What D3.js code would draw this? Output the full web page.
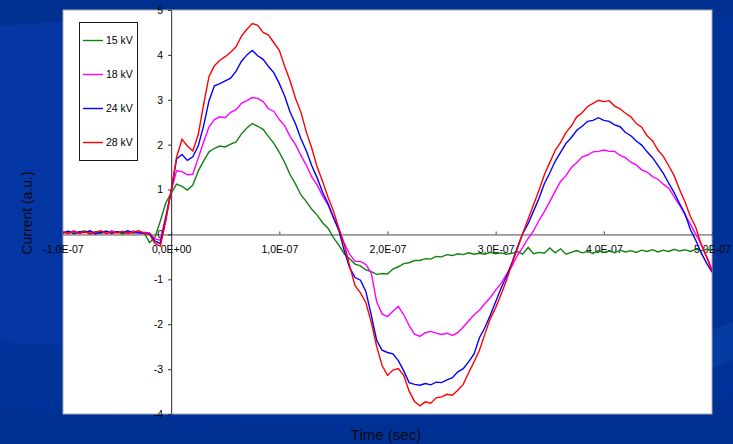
<!DOCTYPE html>
<html>
<head>
<meta charset="utf-8">
<script src="https://cdn.jsdelivr.net/npm/d3@7"></script>
<style>
  html, body { margin: 0; padding: 0; background: #003399; }
  svg { display: block; }
  text { font-family: "Liberation Sans", Arial, sans-serif; }
</style>
</head>
<body>
<svg id="chart" width="733" height="444"></svg>
<script>
// Sample instants, in nanoseconds
const timeNs = [
  -100,-95,-90,-85,-80,-75,-70,-65,-60,-55,-50,-45,-40,-35,-30,-25,-20,-15,-10,-5,
  0,5,10,15,20,25,30,35,40,45,50,55,60,65,70,75,80,85,90,95,
  100,105,110,115,120,125,130,135,140,145,150,155,160,165,170,175,180,185,190,195,
  200,205,210,215,220,225,230,235,240,245,250,255,260,265,270,275,280,285,290,295,
  300,305,310,315,320,325,330,335,340,345,350,355,360,365,370,375,380,385,390,395,
  400,405,410,415,420,425,430,435,440,445,450,455,460,465,470,475,480,485,490,495,
  500
];

// Current (a.u.) for each charging voltage
const current15kV = [
  0.04,0.07,0.02,0.05,0.08,0.03,0.06,0.02,0.07,0.04,0.06,0.01,0.05,0.07,0.03,0.04,-0.18,-0.06,0.30,0.70,
  0.92,1.12,1.07,0.99,1.10,1.41,1.64,1.84,1.92,1.97,1.95,2.01,2.06,2.24,2.37,2.47,2.41,2.34,2.18,2.03,
  1.83,1.60,1.33,1.12,0.88,0.73,0.56,0.43,0.26,0.14,-0.07,-0.24,-0.43,-0.54,-0.66,-0.70,-0.79,-0.83,-0.89,-0.87,
  -0.88,-0.77,-0.72,-0.65,-0.63,-0.58,-0.58,-0.54,-0.55,-0.49,-0.50,-0.45,-0.47,-0.43,-0.45,-0.41,-0.44,-0.42,-0.44,-0.40,
  -0.43,-0.41,-0.44,-0.42,-0.38,-0.44,-0.29,-0.43,-0.40,-0.42,-0.30,-0.41,-0.32,-0.44,-0.40,-0.36,-0.41,-0.38,-0.42,-0.36,
  -0.40,-0.37,-0.41,-0.35,-0.39,-0.36,-0.40,-0.35,-0.38,-0.34,-0.39,-0.35,-0.38,-0.33,-0.37,-0.34,-0.38,-0.33,-0.36,-0.33,
  -0.35
];
const current18kV = [
  0.06,0.03,0.08,0.02,0.05,0.07,0.03,0.06,0.02,0.08,0.04,0.06,0.03,0.07,0.02,0.05,0.03,-0.10,-0.13,0.40,
  0.97,1.42,1.40,1.33,1.34,1.70,2.06,2.40,2.56,2.62,2.60,2.72,2.78,2.92,2.98,3.05,3.03,2.96,2.80,2.74,
  2.56,2.42,2.18,2.00,1.76,1.54,1.28,1.10,0.86,0.66,0.38,0.12,-0.20,-0.44,-0.60,-0.60,-0.67,-0.86,-1.50,-1.77,
  -1.83,-1.71,-1.60,-1.79,-2.03,-2.22,-2.27,-2.19,-2.16,-2.20,-2.23,-2.20,-2.25,-2.19,-2.06,-1.93,-1.79,-1.69,-1.54,-1.41,
  -1.24,-1.09,-0.89,-0.71,-0.47,-0.29,-0.09,0.08,0.31,0.51,0.73,0.96,1.18,1.31,1.49,1.60,1.73,1.77,1.84,1.85,
  1.88,1.85,1.85,1.76,1.71,1.61,1.55,1.44,1.39,1.29,1.23,1.12,1.03,0.84,0.65,0.44,0.23,0.00,-0.21,-0.49,
  -0.78
];
const current24kV = [
  0.03,0.07,0.02,0.06,0.04,0.08,0.01,0.05,0.07,0.02,0.06,0.04,0.08,0.03,0.05,0.02,0.02,-0.15,-0.20,0.35,
  0.96,1.68,1.78,1.65,1.73,1.97,2.42,2.98,3.31,3.36,3.42,3.48,3.64,3.86,4.00,4.10,3.98,3.90,3.74,3.60,
  3.36,3.08,2.72,2.46,2.13,1.86,1.53,1.26,0.94,0.69,0.38,0.09,-0.36,-0.74,-0.96,-1.02,-1.27,-1.80,-2.36,-2.58,
  -2.63,-2.66,-2.81,-3.04,-3.30,-3.34,-3.36,-3.32,-3.35,-3.29,-3.30,-3.24,-3.19,-3.06,-2.99,-2.84,-2.66,-2.30,-2.08,-1.80,
  -1.50,-1.20,-0.93,-0.63,-0.29,0.02,0.24,0.52,0.80,1.13,1.37,1.63,1.83,2.03,2.16,2.32,2.41,2.52,2.54,2.60,
  2.54,2.52,2.44,2.40,2.27,2.20,2.08,1.99,1.84,1.71,1.54,1.36,1.14,0.93,0.69,0.46,0.11,-0.13,-0.41,-0.64,
  -0.84
];
const current28kV = [
  0.05,0.02,0.07,0.03,0.06,0.01,0.05,0.08,0.02,0.06,0.03,0.07,0.02,0.05,0.08,0.03,0.00,-0.20,-0.26,0.30,
  0.98,1.72,2.12,1.97,1.86,2.22,2.90,3.52,3.76,3.88,3.96,4.06,4.18,4.42,4.57,4.70,4.66,4.50,4.44,4.27,
  4.10,3.74,3.42,3.03,2.72,2.28,1.92,1.50,1.18,0.83,0.52,0.14,-0.22,-0.70,-1.14,-1.30,-1.52,-1.96,-2.50,-2.92,
  -3.14,-3.02,-2.99,-3.14,-3.49,-3.72,-3.82,-3.73,-3.76,-3.64,-3.62,-3.56,-3.58,-3.47,-3.34,-3.08,-2.84,-2.58,-2.22,-1.88,
  -1.63,-1.34,-1.02,-0.66,-0.32,0.02,0.34,0.66,0.98,1.33,1.60,1.87,2.05,2.27,2.42,2.62,2.71,2.85,2.92,2.99,
  2.96,2.98,2.86,2.80,2.70,2.62,2.47,2.39,2.20,2.09,1.88,1.74,1.53,1.31,1.00,0.73,0.40,0.16,-0.23,-0.50,
  -0.82
];

const seriesNames = ["15 kV", "18 kV", "24 kV", "28 kV"];
const seriesColors = ["#108010", "#ff00ff", "#0000ff", "#ff0000"];
const seriesValues = [current15kV, current18kV, current24kV, current28kV];

const xTickValues = [-100, 0, 100, 200, 300, 400, 500];
const xTickLabels = ["-1,0E-07", "0,0E+00", "1,0E-07", "2,0E-07", "3,0E-07", "4,0E-07", "5,0E-07"];
const yTickValues = [-4, -3, -2, -1, 0, 1, 2, 3, 4, 5];
const yTickLabels = ["-4", "-3", "-2", "-1", "0", "1", "2", "3", "4", "5"];

const svg = d3.select("#chart");
const W = 733, H = 444;
const plot = { left: 63, right: 712, top: 10, bottom: 414 };

// Slide background with soft swooshes
svg.append("rect").attr("width", W).attr("height", H).attr("fill", "#003399");
svg.append("ellipse").attr("cx", 40).attr("cy", 170).attr("rx", 170).attr("ry", 175)
  .attr("fill", "#0539a6").attr("opacity", 0.7);
svg.append("path")
  .attr("d", "M0,0 L733,0 L733,18 C560,10 300,4 0,26 Z")
  .attr("fill", "#002f8c").attr("opacity", 0.8);
svg.append("path")
  .attr("d", "M0,444 L0,405 C200,425 450,430 733,395 L733,444 Z")
  .attr("fill", "#002f8f").attr("opacity", 0.6);
svg.append("path")
  .attr("d", "M712,330 L733,322 L733,360 L712,368 Z")
  .attr("fill", "#0a3ea8").attr("opacity", 0.7);

// Plot area
svg.append("rect")
  .attr("x", plot.left).attr("y", plot.top)
  .attr("width", plot.right - plot.left).attr("height", plot.bottom - plot.top)
  .attr("fill", "#ffffff").attr("stroke", "#a8a8a8").attr("stroke-width", 1);

const x = d3.scaleLinear().domain([-100, 500]).range([plot.left, plot.right]);
const y = d3.scaleLinear().domain([-4, 5]).range([plot.bottom, plot.top]);

// Horizontal axis along zero current
const xAxis = d3.axisBottom(x)
  .tickValues(xTickValues)
  .tickFormat((d, i) => xTickLabels[i])
  .tickSizeInner(-3).tickSizeOuter(0).tickPadding(11);
const gx = svg.append("g").attr("transform", `translate(0,${y(0)})`).call(xAxis);
gx.select(".domain").attr("stroke", "#4a4a4a");
gx.selectAll(".tick line").attr("stroke", "#4a4a4a");
gx.selectAll(".tick text").attr("fill", "#000").style("font-size", "10.5px")
  .style("font-family", "'Liberation Sans', Arial, sans-serif");

// Vertical axis at t = 0
const yAxis = d3.axisLeft(y)
  .tickValues(yTickValues)
  .tickFormat((d, i) => yTickLabels[i])
  .tickSizeInner(3).tickSizeOuter(0).tickPadding(5);
const gy = svg.append("g").attr("transform", `translate(${x(0)},0)`).call(yAxis);
gy.select(".domain").attr("stroke", "#2a2a2a");
gy.selectAll(".tick line").attr("stroke", "#2a2a2a");
gy.selectAll(".tick text").attr("fill", "#000").style("font-size", "10.5px")
  .style("font-family", "'Liberation Sans', Arial, sans-serif");

// Waveforms
svg.append("clipPath").attr("id", "plot-clip").append("rect")
  .attr("x", plot.left).attr("y", plot.top)
  .attr("width", plot.right - plot.left).attr("height", plot.bottom - plot.top);

const line = d3.line().x(d => x(d.t)).y(d => y(d.v));
const gLines = svg.append("g").attr("clip-path", "url(#plot-clip)");
seriesValues.forEach((vals, k) => {
  const pts = timeNs.map((t, i) => ({ t, v: vals[i] }));
  gLines.append("path")
    .datum(pts)
    .attr("d", line)
    .attr("fill", "none")
    .attr("stroke", seriesColors[k])
    .attr("stroke-width", 1.4)
    .attr("stroke-linejoin", "miter");
});

// Legend
const legend = svg.append("g");
legend.append("rect")
  .attr("x", 79.5).attr("y", 22.5).attr("width", 58).attr("height", 138)
  .attr("fill", "#ffffff").attr("stroke", "#1a1a1a").attr("stroke-width", 1);
seriesNames.forEach((name, k) => {
  const ly = 40.5 + k * 34;
  legend.append("line")
    .attr("x1", 83).attr("x2", 103).attr("y1", ly).attr("y2", ly)
    .attr("stroke", seriesColors[k]).attr("stroke-width", 1.4);
  legend.append("text")
    .attr("x", 106).attr("y", ly).attr("dy", "0.35em")
    .attr("fill", "#000").style("font-size", "10.5px")
    .text(name);
});

// Axis titles
svg.append("text")
  .attr("transform", `translate(32,${(plot.top + plot.bottom) / 2 + 1}) rotate(-90)`)
  .attr("text-anchor", "middle")
  .attr("fill", "#0a0a14").style("font-size", "14px")
  .text("Current (a.u.)");
svg.append("text")
  .attr("x", 386).attr("y", 440)
  .attr("text-anchor", "middle")
  .attr("fill", "#0a0a14").style("font-size", "15px")
  .text("Time (sec)");
</script>
</body>
</html>
